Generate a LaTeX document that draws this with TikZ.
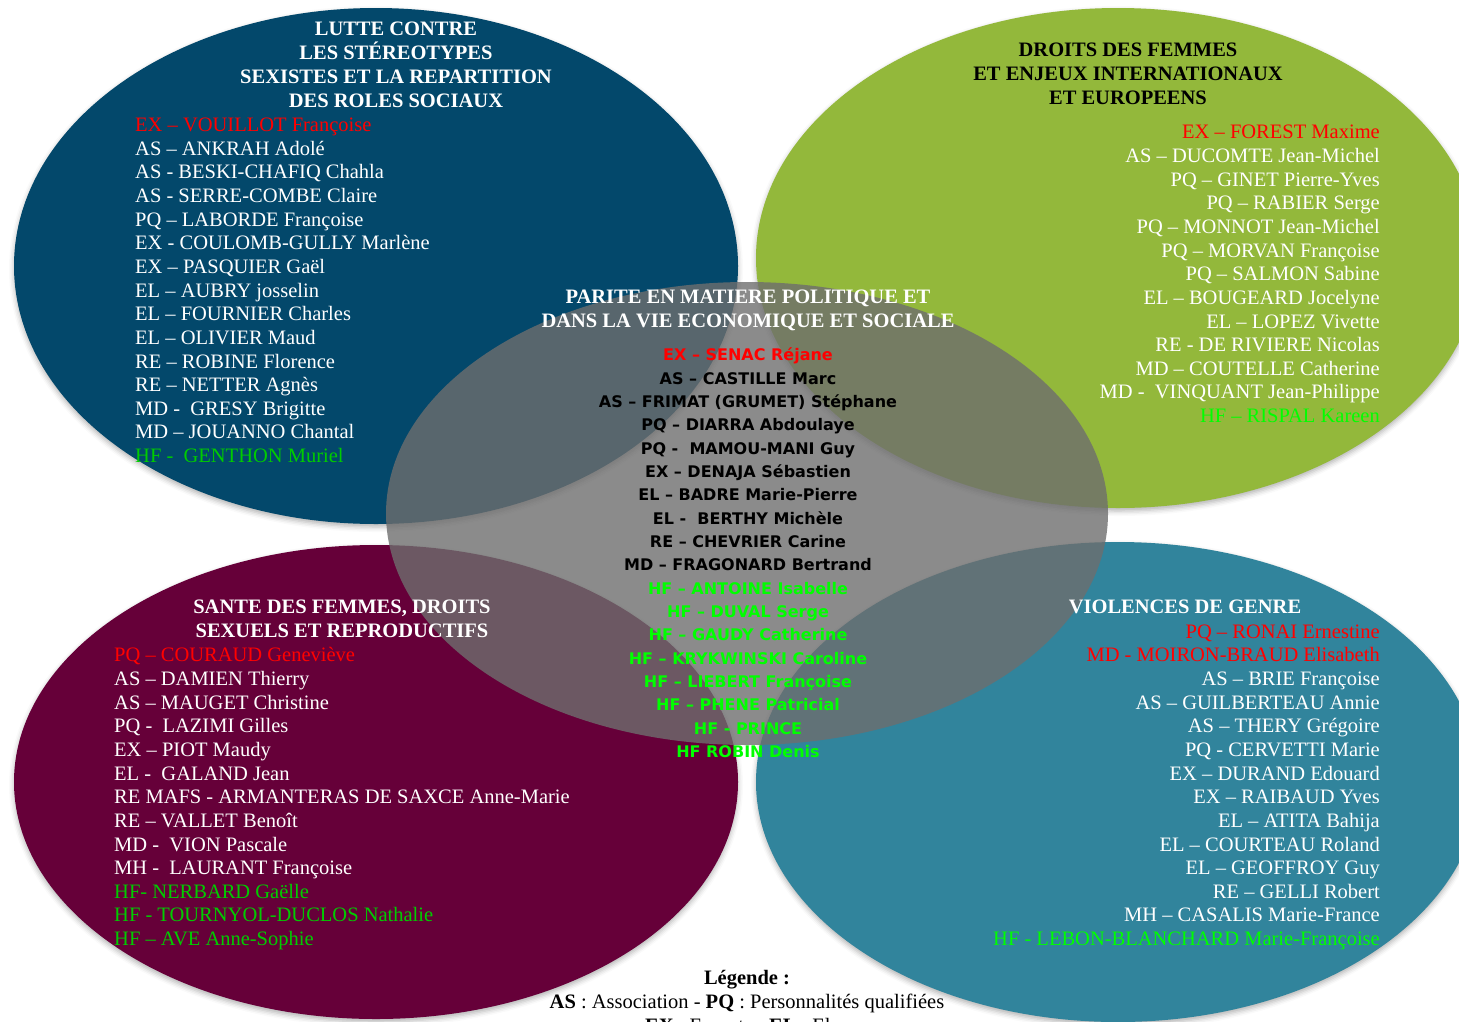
\documentclass[tikz,border=0pt]{standalone}
\usepackage{fontspec}
\setmainfont{Liberation Serif}
\newfontfamily\namefont{DejaVu Sans}
\usepackage{xcolor}
\usetikzlibrary{shapes.geometric,shadows.blur}

\definecolor{lutteblue}{HTML}{03486B}
\definecolor{droitgreen}{HTML}{93B83B}
\definecolor{santered}{HTML}{660039}
\definecolor{violteal}{HTML}{31849C}
\definecolor{paritegrey}{HTML}{6E6E6E}
\definecolor{exred}{HTML}{FF0000}
\definecolor{hfgreen}{HTML}{00FF00}
\definecolor{hfdark}{HTML}{00CC00}

\begin{document}
\begin{tikzpicture}[x=1pt, y=-1pt,
  blob/.style={ellipse, inner sep=0pt, minimum width=724pt,
               blur shadow={shadow xshift=0pt, shadow yshift=-3pt,
                            shadow blur radius=5pt, shadow opacity=30}},
  theme/.style={font=\bfseries\fontsize{20.5}{24}\selectfont, align=center,
                inner sep=0pt, text depth=0pt, anchor=south},
  names/.style={font=\fontsize{20.5}{23.65}\selectfont, white,
                inner sep=0pt, text depth=0pt},
  sans/.style={font=\namefont\bfseries\fontsize{16}{23.35}\selectfont,
               align=center, inner sep=0pt, text depth=0pt, anchor=south}
]
  \useasboundingbox (0,0) rectangle (1459,1021);
  % Outer ellipses
  \node[blob, fill=lutteblue,  minimum height=516pt] (lutte)    at (376,266) {};
  \node[blob, fill=droitgreen, minimum height=500pt] (droits)   at (1118,258) {};
  \node[blob, fill=santered,   minimum height=474pt] (sante)    at (376,782) {};
  \node[blob, fill=violteal,   minimum height=480pt] (violence) at (1118,782) {};
  % Centre
  \node[ellipse, inner sep=0pt, minimum width=722pt, minimum height=463pt,
        fill=paritegrey, fill opacity=0.8] (parite) at (747,513.5) {};

  % Lutte contre les stereotypes
  \node[theme, white] (lutte-t) at (396,107.8) {LUTTE CONTRE\\LES STÉREOTYPES\\SEXISTES ET LA REPARTITION\\DES ROLES SOCIAUX};
  \node[names, align=left, anchor=south west] (lutte-n) at (135,462.8) {%
    \textcolor{exred}{EX – VOUILLOT Françoise}\\
    AS – ANKRAH Adolé\\
    AS - BESKI-CHAFIQ Chahla\\
    AS - SERRE-COMBE Claire\\
    PQ – LABORDE Françoise\\
    EX - COULOMB-GULLY Marlène\\
    EX – PASQUIER Gaël\\
    EL – AUBRY josselin\\
    EL – FOURNIER Charles\\
    EL – OLIVIER Maud\\
    RE – ROBINE Florence\\
    RE – NETTER Agnès\\
    MD - \ GRESY Brigitte\\
    MD – JOUANNO Chantal\\
    \textcolor{hfdark}{HF - \ GENTHON Muriel}};

  % Droits des femmes
  \node[theme, black] (droits-t) at (1128,104.8) {DROITS DES FEMMES\\ET ENJEUX INTERNATIONAUX\\ET EUROPEENS};
  \node[names, align=right, anchor=south east] (droits-n) at (1380,422.8) {%
    \textcolor{exred}{EX – FOREST Maxime}\\
    AS – DUCOMTE Jean-Michel\\
    PQ – GINET Pierre-Yves\\
    PQ – RABIER Serge\\
    PQ – MONNOT Jean-Michel\\
    PQ – MORVAN Françoise\\
    PQ – SALMON Sabine\\
    EL – BOUGEARD Jocelyne\\
    EL – LOPEZ Vivette\\
    RE - DE RIVIERE Nicolas\\
    MD – COUTELLE Catherine\\
    MD - \ VINQUANT Jean-Philippe\\
    \textcolor{hfgreen}{HF – RISPAL Kareen}};

  % Sante des femmes
  \node[theme, white] (sante-t) at (342,637.8) {SANTE DES FEMMES, DROITS\\SEXUELS ET REPRODUCTIFS};
  \node[names, align=left, anchor=south west] (sante-n) at (114,945.8) {%
    \textcolor{exred}{PQ – COURAUD Geneviève}\\
    AS – DAMIEN Thierry\\
    AS – MAUGET Christine\\
    PQ - \ LAZIMI Gilles\\
    EX – PIOT Maudy\\
    EL - \ GALAND Jean\\
    RE MAFS - ARMANTERAS DE SAXCE Anne-Marie\\
    RE – VALLET Benoît\\
    MD - \ VION Pascale\\
    MH - \ LAURANT Françoise\\
    \textcolor{hfdark}{HF- NERBARD Gaëlle}\\
    \textcolor{hfdark}{HF - TOURNYOL-DUCLOS Nathalie}\\
    \textcolor{hfdark}{HF – AVE Anne-Sophie}};

  % Violences de genre
  \node[theme, white] (violence-t) at (1185,613.8) {VIOLENCES DE GENRE};
  \node[names, align=right, anchor=south east] (violence-n) at (1380,945.8) {%
    \textcolor{exred}{PQ – RONAI Ernestine}\\
    \textcolor{exred}{MD - MOIRON-BRAUD Elisabeth}\\
    AS – BRIE Françoise\\
    AS – GUILBERTEAU Annie\\
    AS – THERY Grégoire\\
    PQ - CERVETTI Marie\\
    EX – DURAND Edouard\\
    EX – RAIBAUD Yves\\
    EL – ATITA Bahija\\
    EL – COURTEAU Roland\\
    EL – GEOFFROY Guy\\
    RE – GELLI Robert\\
    MH – CASALIS Marie-France\\
    \textcolor{hfgreen}{HF - LEBON-BLANCHARD Marie-Françoise}};

  % Parite
  \node[theme, white] (parite-t) at (748,327.8) {PARITE EN MATIERE POLITIQUE ET\\DANS LA VIE ECONOMIQUE ET SOCIALE};
  \node[sans] (parite-n) at (748,757.8) {%
    \textcolor{exred}{EX – SENAC Réjane}\\
    AS – CASTILLE Marc\\
    AS – FRIMAT (GRUMET) Stéphane\\
    PQ – DIARRA Abdoulaye\\
    PQ - \ MAMOU-MANI Guy\\
    EX – DENAJA Sébastien\\
    EL – BADRE Marie-Pierre\\
    EL - \ BERTHY Michèle\\
    RE – CHEVRIER Carine\\
    MD – FRAGONARD Bertrand\\
    \textcolor{hfgreen}{HF – ANTOINE Isabelle}\\
    \textcolor{hfgreen}{HF – DUVAL Serge}\\
    \textcolor{hfgreen}{HF – GAUDY Catherine}\\
    \textcolor{hfgreen}{HF – KRYKWINSKI Caroline}\\
    \textcolor{hfgreen}{HF – LIEBERT Françoise}\\
    \textcolor{hfgreen}{HF – PHENE Patricial}\\
    \textcolor{hfgreen}{HF - PRINCE}\\
    \textcolor{hfgreen}{HF ROBIN Denis}};

  % Legende
  \node[font=\fontsize{20.5}{23.65}\selectfont, align=center, inner sep=0pt,
        text depth=0pt, anchor=south] (legende) at (747,1032.4) {%
    \textbf{Légende :}\\
    \textbf{AS} : Association - \textbf{PQ} : Personnalités qualifiées\\
    \textbf{EX} : Experts - \textbf{EL} : Elus};
\end{tikzpicture}
\end{document}
